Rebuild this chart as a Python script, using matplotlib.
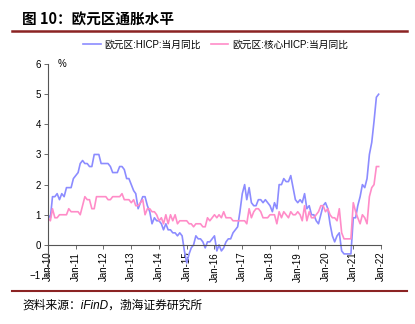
import matplotlib
matplotlib.use("Agg")
import matplotlib.pyplot as plt
import matplotlib.dates as mdates
from matplotlib.lines import Line2D
import pandas as pd

plt.rcParams['font.family'] = ['Liberation Sans', 'Noto Sans CJK SC', 'DejaVu Sans']

months = pd.date_range("2010-01-01", "2021-12-01", freq="MS")

# 欧元区 HICP 当月同比 (%)
hicp = [
    1.0, 0.9, 1.6, 1.6, 1.7, 1.5, 1.7, 1.6, 1.9, 1.9, 1.9, 2.2,
    2.3, 2.4, 2.7, 2.8, 2.7, 2.7, 2.6, 2.6, 3.0, 3.0, 3.0, 2.7,
    2.7, 2.7, 2.7, 2.6, 2.4, 2.4, 2.4, 2.6, 2.6, 2.5, 2.2, 2.2,
    2.0, 1.8, 1.7, 1.2, 1.4, 1.6, 1.6, 1.3, 1.1, 0.7, 0.9, 0.8,
    0.8, 0.7, 0.5, 0.7, 0.5, 0.5, 0.4, 0.4, 0.3, 0.4, 0.3, -0.2,
    -0.6, -0.3, -0.1, 0.0, 0.3, 0.2, 0.2, 0.1, -0.1, 0.1, 0.1, 0.2,
    0.3, -0.2, 0.0, -0.2, -0.1, 0.1, 0.2, 0.2, 0.4, 0.5, 0.6, 1.1,
    1.7, 2.0, 1.5, 1.9, 1.4, 1.3, 1.3, 1.5, 1.5, 1.4, 1.5, 1.4,
    1.3, 1.1, 1.4, 1.2, 2.0, 2.0, 2.2, 2.1, 2.1, 2.3, 1.9, 1.5,
    1.4, 1.5, 1.4, 1.7, 1.2, 1.3, 1.0, 1.0, 0.8, 0.7, 1.0, 1.3,
    1.4, 1.2, 0.7, 0.3, 0.1, 0.3, 0.4, -0.2, -0.3, -0.3, -0.3, -0.3,
    0.9, 0.9, 1.3, 1.6, 2.0, 1.9, 2.2, 3.0, 3.4, 4.1, 4.9, 5.0,
]

# 欧元区 核心HICP 当月同比 (%)
core = [
    0.9, 0.8, 1.2, 0.9, 0.9, 1.0, 1.0, 1.0, 1.0, 1.2, 1.1, 1.1,
    1.1, 1.1, 1.0, 1.3, 1.6, 1.5, 1.5, 1.2, 1.2, 1.6, 1.6, 1.6,
    1.6, 1.6, 1.5, 1.5, 1.6, 1.6, 1.6, 1.6, 1.7, 1.5, 1.5, 1.5,
    1.4, 1.5, 1.3, 1.3, 1.4, 1.5, 1.0, 1.2, 1.2, 1.1, 1.1, 1.0,
    0.8, 0.9, 0.7, 1.0, 0.7, 1.0, 0.8, 1.0, 0.7, 0.8, 0.8, 0.8,
    0.8, 0.7, 0.7, 0.6, 0.7, 0.7, 0.7, 0.6, 0.6, 0.9, 0.8, 0.9,
    1.0, 0.9, 1.0, 0.9, 1.1, 0.9, 0.9, 0.9, 0.8, 0.8, 0.8, 0.8,
    0.8, 0.8, 0.7, 1.2, 0.9, 1.1, 1.2, 1.2, 1.1, 0.9, 0.9, 0.9,
    1.0, 1.0, 1.0, 0.7, 1.1, 0.9, 1.1, 1.0, 0.9, 1.1, 1.0, 1.0,
    1.1, 1.0, 0.8, 1.3, 0.8, 1.1, 0.9, 0.9, 1.0, 1.1, 1.3, 1.3,
    1.1, 1.2, 1.0, 0.9, 0.9, 0.8, 1.2, 0.4, 0.2, 0.2, 0.2, 0.2,
    1.4, 1.1, 0.9, 0.7, 1.0, 0.9, 0.7, 1.6, 1.9, 2.0, 2.6, 2.6,
]

labels = ["欧元区:HICP:当月同比", "欧元区:核心HICP:当月同比"]
blue = "#8c8cff"
pink = "#ff8cc8"
dark_red = "#8b2323"

fig = plt.figure(figsize=(4.15, 3.24), dpi=100)
ax = fig.add_axes([0.1157, 0.1512, 0.8024, 0.651])

ax.plot(months, hicp, color=blue, lw=1.2)
ax.plot(months, core, color=pink, lw=1.2)

ax.set_ylim(-1, 6)
ax.set_xlim(pd.Timestamp("2010-01-01"), pd.Timestamp("2022-01-01"))
ax.set_yticks(range(-1, 7))

ax.xaxis.set_major_locator(mdates.YearLocator())
ax.xaxis.set_major_formatter(mdates.DateFormatter("%b-%y"))

ax.spines["top"].set_visible(False)
ax.spines["right"].set_visible(False)
ax.spines["bottom"].set_position(("data", 0))
for s in ("left", "bottom"):
    ax.spines[s].set_color("#555555")
    ax.spines[s].set_linewidth(0.8)
ax.tick_params(axis="both", labelsize=7, length=3, width=0.6, color="#555555", pad=2)
ax.tick_params(axis="x", labelrotation=90, pad=2)

ax.text(0.03, 1.0, "%", transform=ax.transAxes, fontsize=7, va="center", ha="left")

handles = [Line2D([], [], color=blue, lw=1.2), Line2D([], [], color=pink, lw=1.2)]
fig.legend(handles, labels, loc="center", bbox_to_anchor=(0.52, 0.862), ncol=2,
           frameon=False, handlelength=1.8, handletextpad=0.4,
           columnspacing=1.0, prop={"family": ["Liberation Sans", "Noto Sans CJK SC"], "size": 7})

fig.text(0.053, 0.938, "图 10：欧元区通胀水平", fontsize=10.5, fontweight="bold",
         va="center", ha="left", family=["Noto Sans CJK SC", "DejaVu Sans"])
fig.add_artist(Line2D([0.029, 0.981], [0.904, 0.904], color=dark_red, lw=1.8))
fig.add_artist(Line2D([0.029, 0.981], [0.102, 0.102], color=dark_red, lw=1.5))
fig.text(0.053, 0.058, "资料来源：iFinD，渤海证券研究所", fontsize=8.5, style="italic",
         va="center", ha="left", family=["Liberation Sans", "Noto Sans CJK SC"])

fig.savefig("out.png", dpi=100)
